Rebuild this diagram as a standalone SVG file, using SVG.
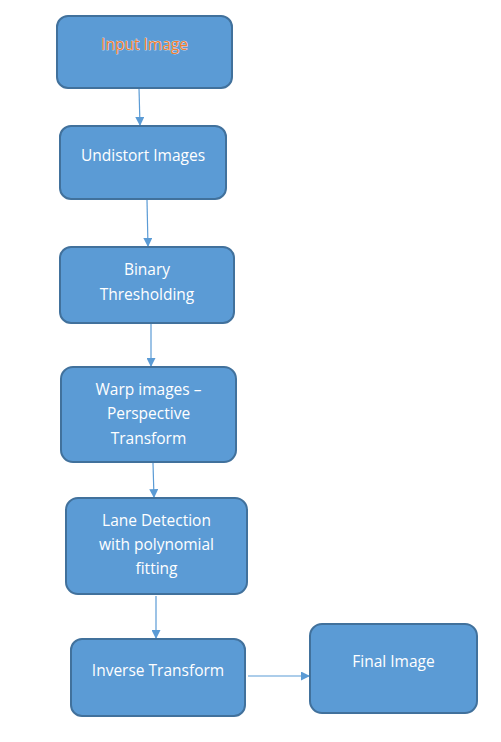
<svg xmlns="http://www.w3.org/2000/svg" width="501" height="742" viewBox="0 0 501 742">
<defs>
<style>
.box{fill:#5B9BD5;stroke:#41719C;stroke-width:2}
.t{font-family:"Open Sans","Liberation Sans",Arial,sans-serif;font-size:15.5px;fill:#FFFFFF;text-anchor:middle}
.o{fill:#ED7D31;stroke:#FFFFFF;stroke-width:0.6;paint-order:stroke}
.c{stroke:#5B9BD5;stroke-width:1.2;fill:none;marker-end:url(#ah)}
</style>
<marker id="ah" viewBox="0 0 10 10" refX="10" refY="5" markerWidth="10" markerHeight="9" markerUnits="userSpaceOnUse" orient="auto">
<path d="M0,0 L10,5 L0,10 Z" fill="#5B9BD5"/>
</marker>
</defs>
<rect width="501" height="742" fill="#FFFFFF"/>
<g id="connectors">
<line class="c" x1="139" y1="88" x2="140" y2="126"/>
<line class="c" x1="147" y1="200" x2="148" y2="247"/>
<line class="c" x1="151" y1="323" x2="151" y2="367"/>
<line class="c" x1="153" y1="463" x2="154" y2="498"/>
<line class="c" x1="156" y1="596" x2="156" y2="639"/>
<line class="c" x1="248" y1="676" x2="310" y2="676"/>
</g>
<g id="input">
<rect class="box" x="57" y="16" width="175" height="72" rx="11"/>
<text class="t o" x="144.5" y="50">Input Image</text>
</g>
<g id="undistort">
<rect class="box" x="60" y="126" width="166" height="73" rx="11"/>
<text class="t" x="143" y="161">Undistort Images</text>
</g>
<g id="binary">
<rect class="box" x="60" y="247" width="174" height="76" rx="11"/>
<text class="t" x="147" y="275">Binary</text>
<text class="t" x="147" y="300">Thresholding</text>
</g>
<g id="warp">
<rect class="box" x="61" y="367" width="175" height="95" rx="12"/>
<text class="t" x="148.5" y="395">Warp images –</text>
<text class="t" x="148.5" y="419">Perspective</text>
<text class="t" x="148.5" y="444">Transform</text>
</g>
<g id="lane">
<rect class="box" x="66" y="498" width="181" height="96" rx="12"/>
<text class="t" x="156.5" y="526">Lane Detection</text>
<text class="t" x="156.5" y="550">with polynomial</text>
<text class="t" x="156.5" y="574">fitting</text>
</g>
<g id="inverse">
<rect class="box" x="71" y="639" width="174" height="77" rx="11"/>
<text class="t" x="158" y="676">Inverse Transform</text>
</g>
<g id="final">
<rect class="box" x="310" y="624" width="167" height="89" rx="12"/>
<text class="t" x="393.5" y="667">Final Image</text>
</g>
</svg>
